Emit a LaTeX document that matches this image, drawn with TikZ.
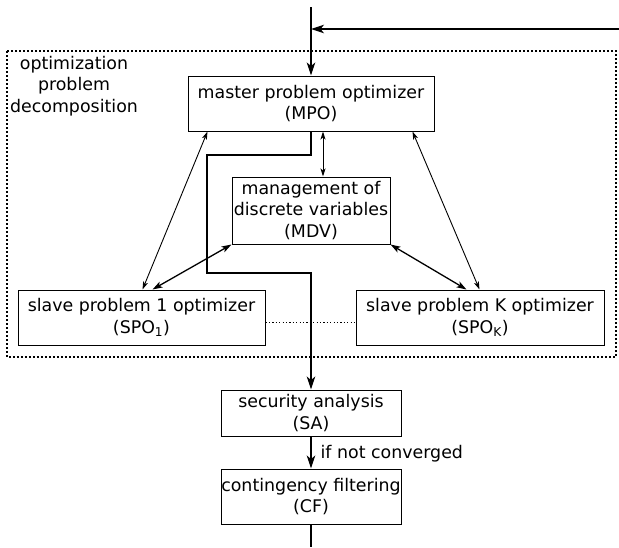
\documentclass[tikz,border=0pt]{standalone}
\usepackage{fontspec}
\setmainfont{DejaVu Sans}
\usetikzlibrary{arrows.meta,calc}
\begin{document}
\begin{tikzpicture}[x=1pt,y=-1pt,
  box/.style={draw,line width=1pt,inner sep=0pt,align=center,
    font=\fontsize{17.4}{21.5}\selectfont},
  flow/.style={line width=1.2pt,-{Stealth[length=13pt,width=8.5pt,inset=3.5pt]}},
  thin2/.style={line width=0.9pt,{Stealth[length=8pt,width=5pt,inset=2pt]}-{Stealth[length=8pt,width=5pt,inset=2pt]}},
  thick2/.style={line width=1.3pt,{Stealth[length=10pt,width=6.5pt,inset=2.5pt]}-{Stealth[length=10pt,width=6.5pt,inset=2.5pt]}},
  lbl/.style={font=\fontsize{17.4}{21.5}\selectfont,inner sep=0pt}]
\useasboundingbox (0,0) rectangle (619,547);
% decomposition frame
\draw[line width=1.6pt,dash pattern=on 1.6pt off 2.4pt] (7,51) rectangle (616,357);
\node[lbl,align=center] (lab) at (74,86) {optimization\\problem\\decomposition};
% boxes
\node[box,minimum width=246pt,minimum height=55pt] (mpo) at (311,103.5) {master problem optimizer\\(MPO)};
\node[box,minimum width=158pt,minimum height=67pt] (mdv) at (311,210.5) {management of\\discrete variables\\(MDV)};
\node[box,minimum width=247pt,minimum height=55pt] (spo1) at (141.5,317.5) {slave problem 1 optimizer\\(SPO\textsubscript{1})};
\node[box,minimum width=248pt,minimum height=55pt] (spok) at (480,317.5) {slave problem K optimizer\\(SPO\textsubscript{K})};
\node[box,minimum width=180pt,minimum height=46pt] (sa) at (311,413) {security analysis\\(SA)};
\node[box,minimum width=180pt,minimum height=55pt] (cf) at (311,496.5) {contingency filtering\\(CF)};
% coordinates
\coordinate (top) at (311,7);
\coordinate (fbR) at (619,29);
\coordinate (fbL) at (311,29);
\coordinate (c1) at (207,155);
\coordinate (c2) at (311,273);
\coordinate (bot) at (311,547);
% main flow
\draw[flow] (top) -- (mpo.north);
\draw[flow] (fbR) -- (fbL);
\draw[flow] (mpo.south) |- (c1) |- (c2) -- (sa.north);
\draw[flow] (sa.south) -- (cf.north) node[lbl,midway,right=9pt,yshift=-1pt] (nc) {if not converged};
\draw[line width=1.2pt] (cf.south) -- (bot);
% interactions
\draw[thin2] ($(mpo.south)+(12,0)$) -- ($(mdv.north)+(12,0)$);
\draw[thin2] ($(mpo.south west)+(20,0)$) -- ($(spo1.north west)+(125,0)$);
\draw[thin2] ($(mpo.south east)+(-22,0)$) -- ($(spok.north west)+(124,0)$);
\draw[thick2] (mdv.south west) -- ($(spo1.north west)+(135,0)$);
\draw[thick2] (mdv.south east) -- ($(spok.north west)+(111,0)$);
\draw[line width=0.9pt,dash pattern=on 1.2pt off 2.2pt] ($(spo1.east)+(0,5)$) -- ($(spok.west)+(0,5)$);
\end{tikzpicture}
\end{document}
